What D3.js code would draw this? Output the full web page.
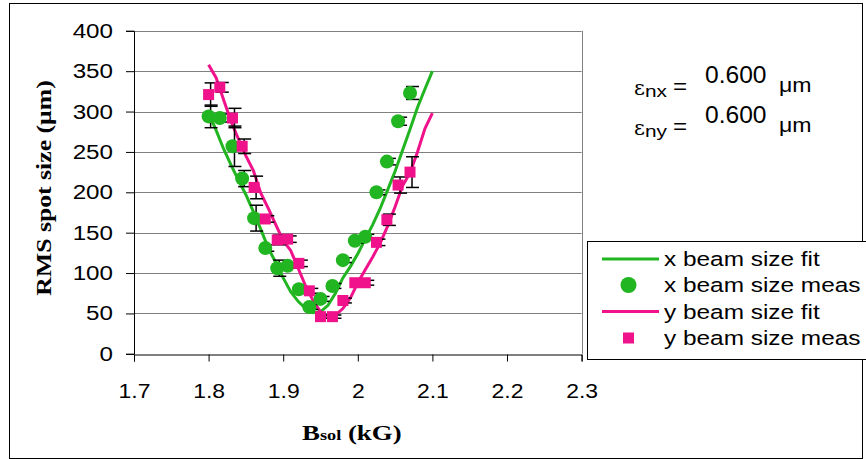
<!DOCTYPE html>
<html>
<head>
<meta charset="utf-8">
<script src="https://cdn.jsdelivr.net/npm/d3@7"></script>
<style>
  body { margin: 0; background: #fff; }
  svg { display: block; font-family: "Liberation Sans", Arial, sans-serif; }
</style>
</head>
<body>
<div id="chart-area"></div>
<script>
// measured points (B field in kG, spot size in um)
const bField = [1.800, 1.815, 1.832, 1.845, 1.861, 1.876, 1.892, 1.906, 1.921, 1.935,
                1.950, 1.966, 1.980, 1.996, 2.010, 2.025, 2.039, 2.054, 2.070];
const xMeas = [294, 292, 257, 217, 168, 131, 106, 109, 80, 58,
               68, 84, 116, 140, 145, 200, 238, 288, 323];
const xErr  = [14, 5, 25, 10, 16, 4, 10, 3, 3, 3,
               3, 3, 3, 3, 3, 3, 4, 5, 8];
const yMeas = [321, 330, 292, 257, 206, 167, 141, 142, 112, 78,
               46, 46, 66, 88, 88, 138, 166, 209, 225];
const yErr  = [14.5, 6, 12, 9, 14, 4, 6, 4, 4, 3,
               2, 2, 3, 3, 3, 4, 7, 10, 19];

// fit curves
const fitB = [1.80, 1.81, 1.82, 1.83, 1.84, 1.85, 1.86, 1.87, 1.88, 1.89, 1.90,
              1.91, 1.92, 1.93, 1.94, 1.95, 1.96, 1.97, 1.98, 1.99, 2.00,
              2.01, 2.02, 2.03, 2.04, 2.05, 2.06, 2.07, 2.08, 2.09, 2.10];
const xFit = [298, 277, 254, 234, 215, 197, 176, 154, 131, 113, 94,
              77, 65, 56, 51, 52, 60, 75, 94, 108, 124,
              142, 160, 180, 203, 226, 252, 278, 305, 328, 350];
const yFit = [358, 342, 315, 288, 266, 245, 227, 199, 180, 160, 140,
              128, 106, 84, 66, 52, 46, 48, 56, 69, 88,
              104, 120, 137, 158, 182, 208, 224, 250, 279, 298];

const xTicks = [1.7, 1.8, 1.9, 2.0, 2.1, 2.2, 2.3];
const yTicks = [0, 50, 100, 150, 200, 250, 300, 350, 400];
const legendLabels = ["x beam size fit", "x beam size meas", "y beam size fit", "y beam size meas"];

const green = "#21b521";
const pink = "#ef128b";

const W = 866, H = 459;
const svg = d3.select("#chart-area").append("svg")
    .attr("width", W).attr("height", H);

// the original text is drawn a bit wider than normal, stretch it horizontally
function stretch(sel, k) {
  sel.each(function() {
    const t = d3.select(this);
    const tx = +t.attr("x") || 0, ty = +t.attr("y") || 0;
    t.attr("x", 0).attr("y", 0)
     .attr("transform", `translate(${tx},${ty}) scale(${k},1)`);
  });
}

svg.append("rect").attr("width", W).attr("height", H).attr("fill", "#fff");
// outer chart border
svg.append("rect")
    .attr("x", 9.5).attr("y", 3.5).attr("width", 853).attr("height", 455)
    .attr("fill", "none").attr("stroke", "#000");

const x = d3.scaleLinear().domain([1.7, 2.3]).range([134, 581.6]);
const y = d3.scaleLinear().domain([0, 400]).range([353.8, 30.8]);

// gridlines
svg.append("g").selectAll("line")
  .data(yTicks.slice(1))
  .join("line")
    .attr("x1", x(1.7)).attr("x2", x(2.3))
    .attr("y1", d => Math.round(y(d)) + 0.5).attr("y2", d => Math.round(y(d)) + 0.5)
    .attr("stroke", "#808080").attr("stroke-width", 1);

svg.append("line")
    .attr("x1", Math.round(x(2.3)) + 0.5).attr("x2", Math.round(x(2.3)) + 0.5)
    .attr("y1", y(400)).attr("y2", y(0))
    .attr("stroke", "#808080");

// axes
const yAxis = svg.append("g")
    .attr("transform", `translate(${x(1.7)},0)`)
    .call(d3.axisLeft(y).tickValues(yTicks).tickSize(8).tickPadding(13).tickFormat(d3.format("d")));
const xAxis = svg.append("g")
    .attr("transform", `translate(0,${Math.round(y(0)) + 0.5})`)
    .call(d3.axisBottom(x).tickValues(xTicks).tickSize(7).tickPadding(22).tickFormat(d => d === 2 ? "2" : d3.format(".1f")(d)));

[xAxis, yAxis].forEach(a => {
  a.select(".domain").attr("stroke", "#000");
  a.selectAll(".tick line").attr("stroke", "#000");
  a.selectAll("text")
    .attr("fill", "#000")
    .style("font-family", "'Liberation Sans', Arial, sans-serif")
    .style("font-size", "20.5px");
});
// keep the dy offsets d3 sets, only move x/y into the transform
yAxis.selectAll("text").each(function() {
  const t = d3.select(this);
  const tx = +t.attr("x");
  t.attr("x", 0).attr("transform", `translate(${tx},0) scale(1.18,1)`);
});
xAxis.selectAll("text").each(function() {
  const t = d3.select(this);
  const ty = +t.attr("y");
  t.attr("y", 0).attr("transform", `translate(0,${ty}) scale(1.12,1)`);
});

// fit lines
const line = d3.line().x(d => x(d[0])).y(d => y(d[1]));
svg.append("path")
    .datum(d3.zip(fitB, xFit))
    .attr("fill", "none").attr("stroke", green).attr("stroke-width", 3)
    .attr("d", line);
svg.append("path")
    .datum(d3.zip(fitB, yFit))
    .attr("fill", "none").attr("stroke", pink).attr("stroke-width", 3)
    .attr("d", line);

// error bars
function errorBars(vals, errs) {
  const g = svg.append("g").attr("stroke", "#000").attr("stroke-width", 1.5);
  bField.forEach((b, i) => {
    const cx = x(b) + 2;
    const y0 = y(vals[i] - errs[i]), y1 = y(vals[i] + errs[i]);
    g.append("line").attr("x1", cx).attr("x2", cx).attr("y1", y0).attr("y2", y1);
    g.append("line").attr("x1", cx - 6).attr("x2", cx + 7).attr("y1", y0).attr("y2", y0);
    g.append("line").attr("x1", cx - 6).attr("x2", cx + 7).attr("y1", y1).attr("y2", y1);
  });
}
errorBars(xMeas, xErr);
errorBars(yMeas, yErr);

// markers
svg.append("g").selectAll("circle")
  .data(d3.zip(bField, xMeas))
  .join("circle")
    .attr("cx", d => x(d[0])).attr("cy", d => y(d[1]))
    .attr("r", 7).attr("fill", green);
svg.append("g").selectAll("rect")
  .data(d3.zip(bField, yMeas))
  .join("rect")
    .attr("x", d => x(d[0]) - 5.5).attr("y", d => y(d[1]) - 5.5)
    .attr("width", 11).attr("height", 11).attr("fill", pink);

// axis titles
svg.append("text")
    .attr("transform", "translate(51,188) rotate(-90) scale(1.17,1)")
    .attr("text-anchor", "middle")
    .style("font-family", "'Liberation Serif', 'Times New Roman', serif")
    .style("font-weight", "bold").style("font-size", "22px")
    .text("RMS spot size (μm)");

const xt = svg.append("text")
    .attr("x", 302).attr("y", 440)
    .style("font-family", "'Liberation Serif', 'Times New Roman', serif")
    .style("font-weight", "bold");
xt.append("tspan").style("font-size", "22px").text("B");
xt.append("tspan").style("font-size", "15px").text("sol");
xt.append("tspan").style("font-size", "22px").text(" (kG)");
stretch(xt, 1.22);

// emittance annotation
[["nx", 0], ["ny", 40]].forEach(([sub, off]) => {
  const g = svg.append("g").attr("transform", `translate(0,${off})`);
  g.append("text").attr("x", 634).attr("y", 95)
      .style("font-size", "21px").style("font-family", "'DejaVu Serif', serif").text("ε");
  stretch(g.append("text").attr("x", 645).attr("y", 97)
      .style("font-size", "16px").text(sub), 1.3);
  stretch(g.append("text").attr("x", 673).attr("y", 94)
      .style("font-size", "22px").text("="), 1.1);
  stretch(g.append("text").attr("x", 705).attr("y", 83)
      .style("font-size", "23px").text("0.600"), 1.07);
  stretch(g.append("text").attr("x", 779).attr("y", 92)
      .style("font-size", "21px").text("μm"), 1.1);
});

// legend
const lg = svg.append("g");
lg.append("rect")
    .attr("x", 587.5).attr("y", 241.5).attr("width", 300).attr("height", 118)
    .attr("fill", "#fff").attr("stroke", "#000");
const rows = [259, 285, 311.5, 338];
legendLabels.forEach((lab, i) => {
  const yy = rows[i];
  if (i === 0 || i === 2) {
    lg.append("line").attr("x1", 602).attr("x2", 659).attr("y1", yy).attr("y2", yy)
        .attr("stroke", i === 0 ? green : pink).attr("stroke-width", 3);
  } else if (i === 1) {
    lg.append("circle").attr("cx", 628.5).attr("cy", yy).attr("r", 8).attr("fill", green);
  } else {
    lg.append("rect").attr("x", 623).attr("y", yy - 5.5).attr("width", 11).attr("height", 11).attr("fill", pink);
  }
  stretch(lg.append("text").attr("x", 664).attr("y", yy + 7)
      .style("font-size", "20.5px")
      .text(lab), 1.19);
});
</script>
</body>
</html>
